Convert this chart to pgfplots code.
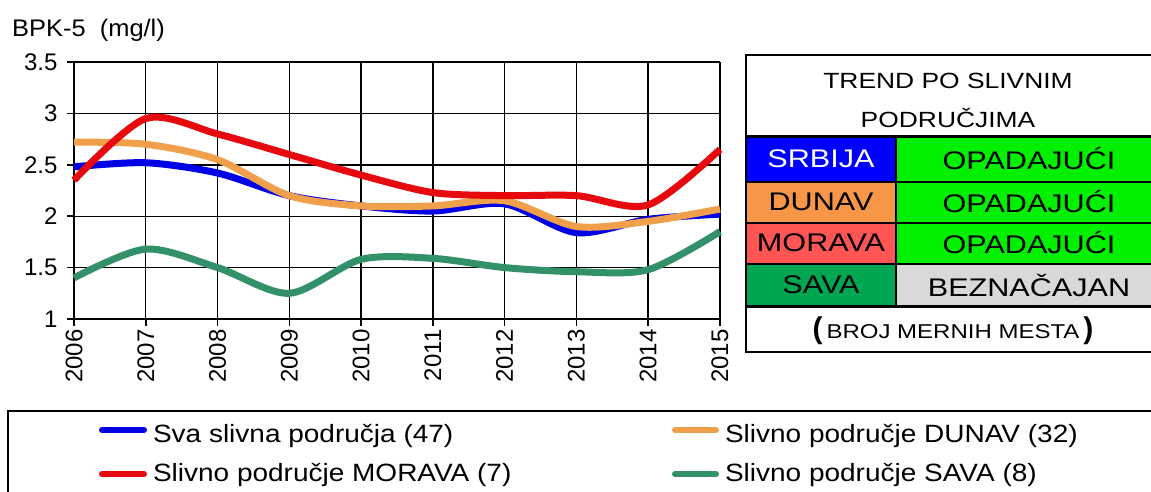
\documentclass[border=0pt]{standalone}
\usepackage{pgfplots}
\pgfplotsset{compat=1.18}
\usepackage{fontspec}
\setmainfont{Liberation Sans}
\newfontfamily\widefont[FakeStretch=1.2]{Liberation Sans}
\newfontfamily\legfont[FakeStretch=1.12]{Liberation Sans}
\newfontfamily\titlefont[FakeStretch=1.06]{Liberation Sans}

\definecolor{cblue}{RGB}{0,0,230}
\definecolor{corange}{RGB}{240,160,75}
\definecolor{cred}{RGB}{230,10,15}
\definecolor{cgreen}{RGB}{50,145,105}
\definecolor{fblue}{RGB}{0,0,255}
\definecolor{forange}{RGB}{247,150,70}
\definecolor{fred}{RGB}{255,85,85}
\definecolor{fgreen}{RGB}{0,166,81}
\definecolor{flime}{RGB}{0,240,0}
\definecolor{fgrey}{RGB}{217,217,217}

\begin{document}
\begin{tikzpicture}[x=1pt,y=1pt,font=\fontsize{24}{28}\selectfont]
\useasboundingbox (0,0) rectangle (1151,491);

\begin{axis}[
    at={(74pt,172pt)}, anchor=south west,
    scale only axis, width=646pt, height=257pt,
    xmin=2006, xmax=2015, ymin=1, ymax=3.5,
    xtick={2006,...,2015},
    ytick={1,1.5,2,2.5,3,3.5},
    /pgf/number format/1000 sep={},
    /pgf/number format/assume math mode=true,
    tick label style={font=\fontsize{24}{28}\selectfont},
    x tick label style={rotate=90, anchor=east},
    y tick label style={xshift=-6pt},
    tick pos=left, tick align=outside,
    major tick length=7pt,
    tick style={black, line width=1.5pt},
    axis line style={black, line width=1.5pt},
    axis x line*=bottom, axis y line*=left,
    grid=major, grid style={black, line width=1.4pt},
    clip=false,
]
  % Sava
  \addplot[cgreen, line width=7pt, smooth] coordinates {
    (2006,1.40) (2007,1.68) (2008,1.50) (2009,1.25) (2010,1.58)
    (2011,1.59) (2012,1.50) (2013,1.46) (2014,1.48) (2015,1.85)};
  % Srbija
  \addplot[cblue, line width=7pt, smooth] coordinates {
    (2006,2.48) (2007,2.52) (2008,2.42) (2009,2.20) (2010,2.10)
    (2011,2.05) (2012,2.12) (2013,1.84) (2014,1.97) (2015,2.02)};
  % Dunav
  \addplot[corange, line width=7pt, smooth] coordinates {
    (2006,2.72) (2007,2.70) (2008,2.55) (2009,2.20) (2010,2.10)
    (2011,2.10) (2012,2.15) (2013,1.90) (2014,1.95) (2015,2.07)};
  % Morava
  \addplot[cred, line width=7pt, smooth] coordinates {
    (2006,2.35) (2007,2.95) (2008,2.80) (2009,2.60) (2010,2.40)
    (2011,2.23) (2012,2.20) (2013,2.20) (2014,2.11) (2015,2.65)};
\end{axis}

% y axis title
\node[anchor=base west, inner sep=0pt, font=\titlefont\fontsize{24}{28}\selectfont] at (12,454) {BPK-5 \ (mg/l)};

% trend table
\fill[fblue]   (746,354) rectangle (896,309);
\fill[forange] (746,309) rectangle (896,268);
\fill[fred]    (746,268) rectangle (896,227);
\fill[fgreen]  (746,227) rectangle (896,185);
\fill[flime]   (896,354) rectangle (1155,227);
\fill[fgrey]   (896,227) rectangle (1155,185);
\draw[line width=1.2pt] (746,309) -- (1155,309) (746,268) -- (1155,268) (746,227) -- (1155,227);
\draw[line width=3pt] (746,354) -- (1155,354) (746,185) -- (1155,185);
\draw[line width=1.5pt] (896,354) -- (896,185);
\draw[line width=2.5pt] (1155,436) -- (746,436) -- (746,139) -- (1155,139);
\begin{scope}[font=\widefont\fontsize{22}{26}\selectfont]
  \node at (948,410) {TREND PO SLIVNIM};
  \node at (948,373) {PODRUČJIMA};
\end{scope}
\begin{scope}[font=\widefont\fontsize{25.5}{28}\selectfont]
  \node[white] at (821,332) {SRBIJA};
  \node at (821,289) {DUNAV};
  \node at (821,248) {MORAVA};
  \node at (821,206) {SAVA};
  \node at (1029,332) {OPADAJUĆI};
  \node at (1029,289) {OPADAJUĆI};
  \node at (1029,248) {OPADAJUĆI};
  \node at (1029,206) {BEZNAČAJAN};
\end{scope}
\node at (953,160) {\textbf{\fontsize{30}{30}\selectfont(}\,{\widefont\fontsize{20}{24}\selectfont BROJ MERNIH MESTA}\,\textbf{\fontsize{30}{30}\selectfont)}};

% legend
\draw[line width=1.5pt] (1160,80) -- (8,80) -- (8,-10);
\begin{scope}[line width=6pt, line cap=round, font=\legfont\fontsize{25}{28}\selectfont]
  \draw[cblue]   (102,61) -- (144,61);
  \draw[cred]    (102,17) -- (144,17);
  \draw[corange] (675,61) -- (716,61);
  \draw[cgreen]  (675,17) -- (716,17);
  \node[anchor=base west, inner sep=0pt] at (150,49) {Sva slivna područja (47)};
  \node[anchor=base west, inner sep=0pt] at (150,10) {Slivno područje MORAVA (7)};
  \node[anchor=base west, inner sep=0pt] at (722,49) {Slivno područje DUNAV (32)};
  \node[anchor=base west, inner sep=0pt] at (722,10) {Slivno područje SAVA (8)};
\end{scope}
\end{tikzpicture}
\end{document}
